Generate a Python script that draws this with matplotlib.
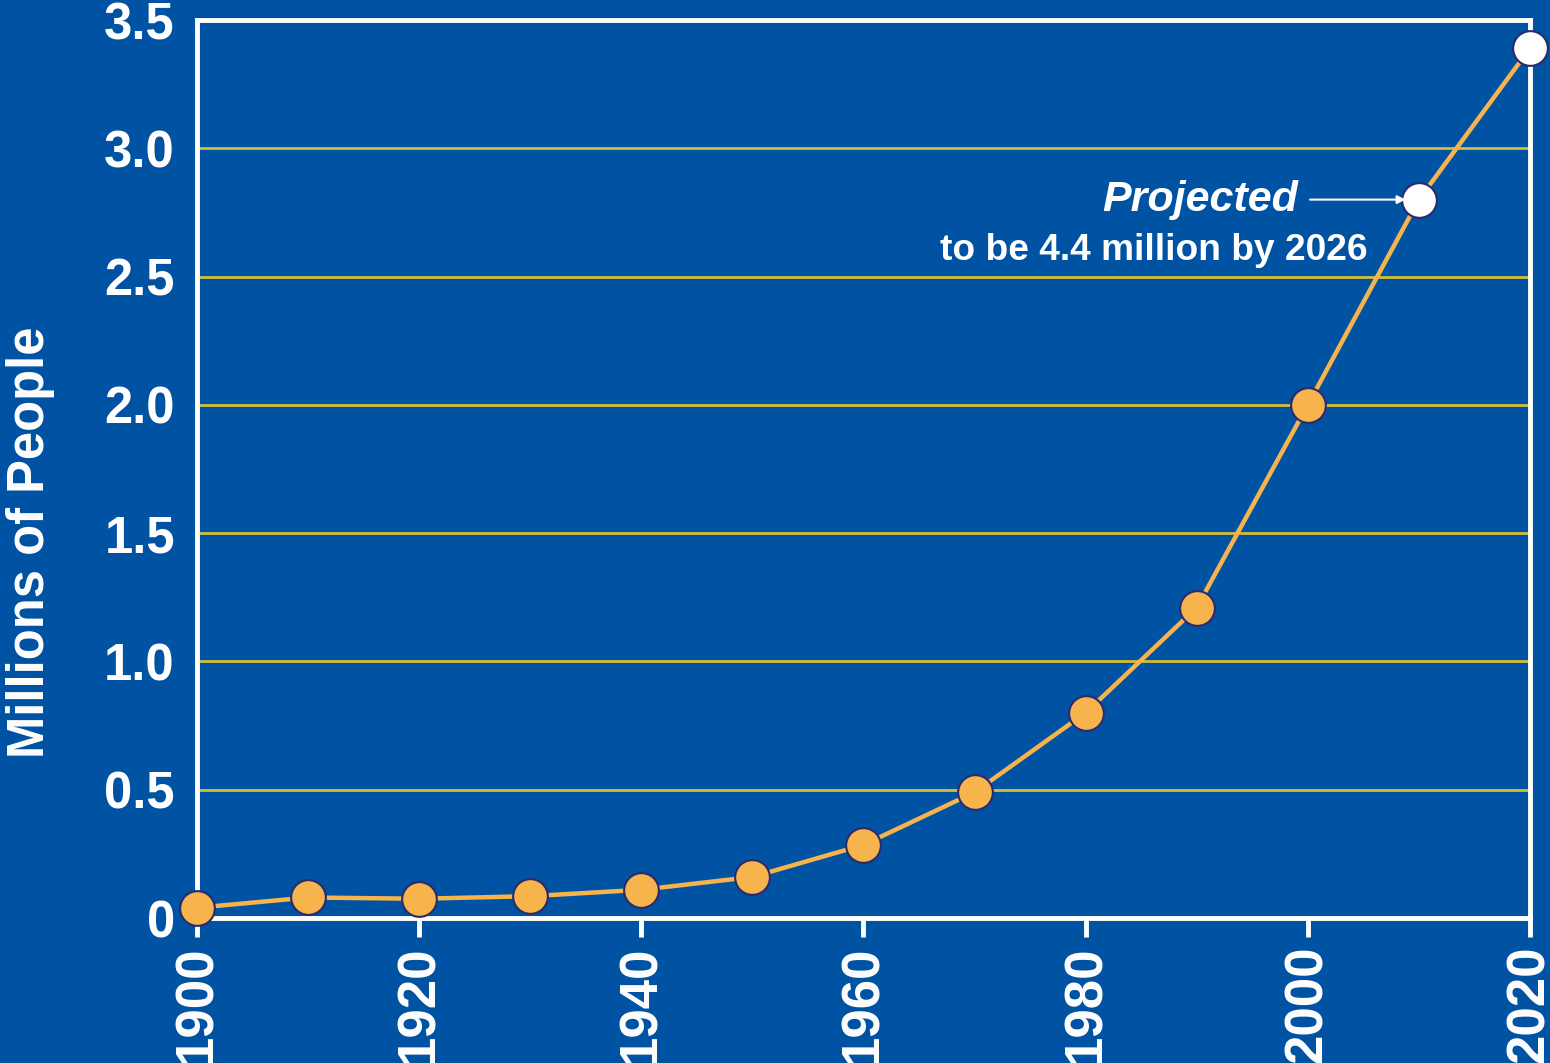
import matplotlib
matplotlib.use("Agg")
import matplotlib.pyplot as plt

years = [1900, 1910, 1920, 1930, 1940, 1950, 1960, 1970, 1980, 1990, 2000, 2010, 2020]
millions = [0.04, 0.08, 0.075, 0.085, 0.11, 0.16, 0.285, 0.49, 0.80, 1.21, 2.0, 2.8, 3.39]
projected = [False]*11 + [True, True]
xticks = [1900, 1920, 1940, 1960, 1980, 2000, 2020]
yticks = [0, 0.5, 1.0, 1.5, 2.0, 2.5, 3.0, 3.5]
ytick_labels = ["0", "0.5", "1.0", "1.5", "2.0", "2.5", "3.0", "3.5"]

BG = "#0052A3"
GRID = "#D2BE34"
LINE = "#F8B44C"
EDGE = "#2B2A6B"
plt.rcParams['font.family'] = ['Liberation Sans', 'DejaVu Sans']

fig = plt.figure(figsize=(15.5, 10.63), dpi=100, facecolor=BG)
ax = fig.add_axes([197/1550, 1-918/1063, (1530-197)/1550, (918-20)/1063])
ax.set_facecolor(BG)
ax.set_xlim(1900, 2020)
ax.set_ylim(0, 3.5)

for yv in yticks[1:-1]:
    ax.axhline(yv, color=GRID, lw=2, zorder=1)

ax.plot(years, millions, color=LINE, lw=3.2, zorder=2, clip_on=False)
for x, y, p in zip(years, millions, projected):
    ax.plot([x], [y], marker='o', ms=25, mfc='white' if p else LINE,
            mec=EDGE, mew=1.5, zorder=3, clip_on=False)

for s in ax.spines.values():
    s.set_color('white')
    s.set_linewidth(3.5)

ax.set_xticks(xticks)
ax.set_xticklabels([str(v) for v in xticks], rotation=90, fontsize=38,
                   fontweight='bold', color='white')
ax.set_yticks(yticks)
ax.set_yticklabels(ytick_labels, fontsize=36.5, fontweight='bold', color='white')
ax.tick_params(axis='x', length=14, width=3.5, color='white', pad=6)
ax.tick_params(axis='y', length=0, pad=16)

fig.text(31/1550, 1-542/1063, "Millions of People", fontsize=36.5, fontweight='bold',
         color='white', rotation=90, ha='center', va='center')

ax.annotate("", xy=(2008.8, 2.8), xytext=(2000.2, 2.8),
            arrowprops=dict(arrowstyle='-|>', color='white', lw=1.5,
                            mutation_scale=12, shrinkA=0, shrinkB=0))
ax.text(1999.1, 2.8, "Projected", fontsize=31, fontweight='bold', fontstyle='italic',
        color='white', ha='right', va='center')
ax.text(2005.4, 2.6, "to be 4.4 million by 2026", fontsize=26.7, fontweight='bold',
        color='white', ha='right', va='center')

fig.savefig("out.png", dpi=100, facecolor=BG)
